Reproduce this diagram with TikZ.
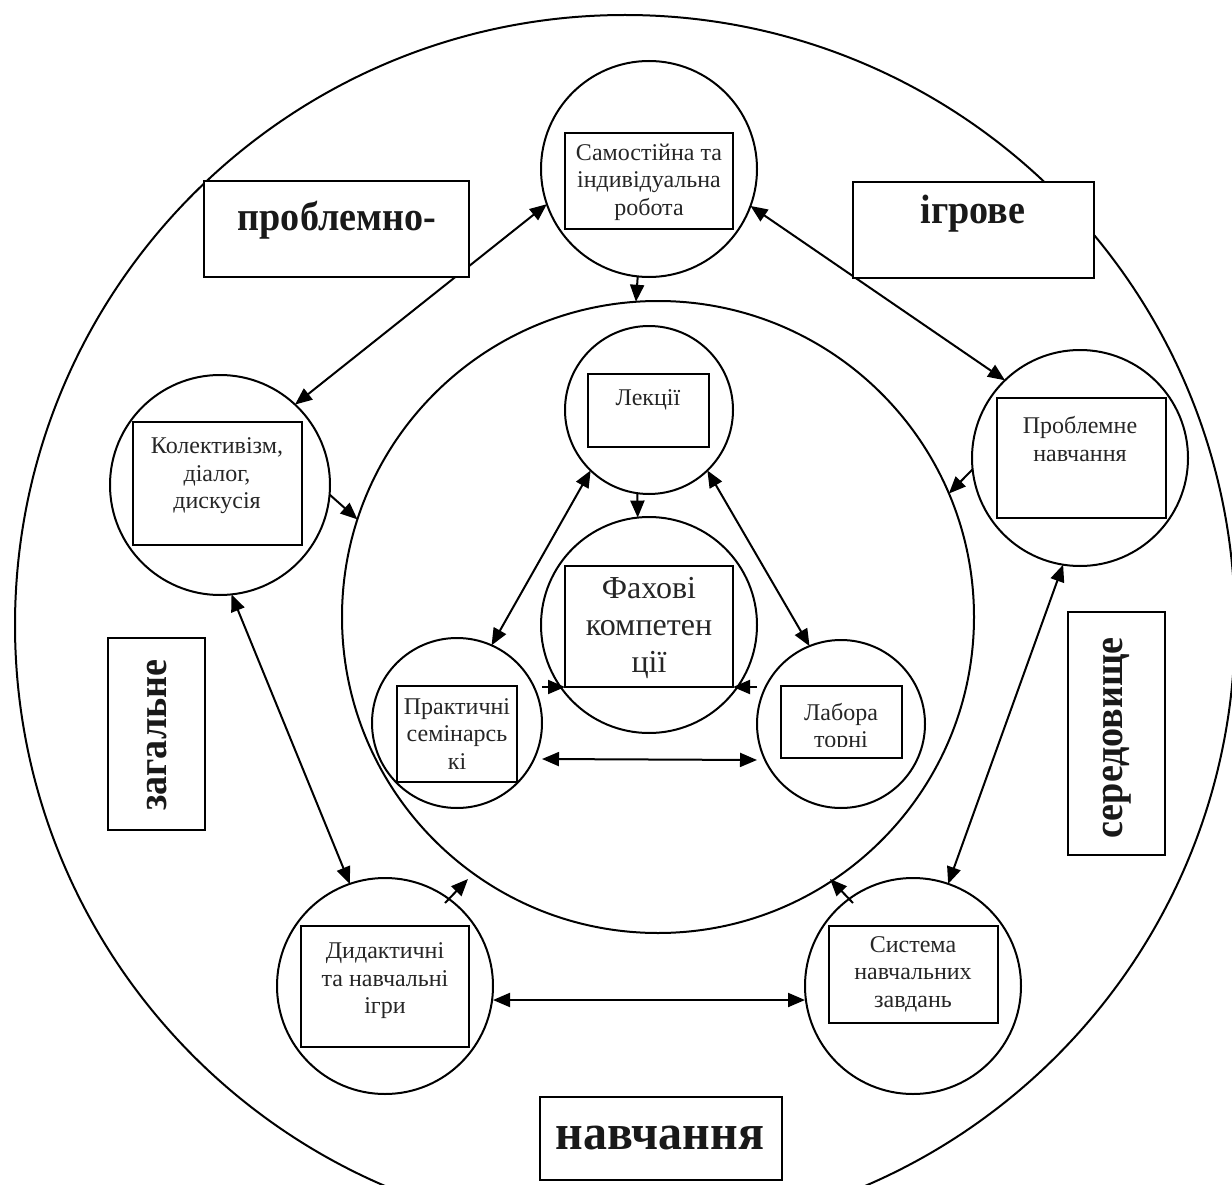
\documentclass[tikz,border=0pt]{standalone}
\usepackage{fontspec}
\usepackage{graphicx}
\setmainfont{Liberation Serif}
\usetikzlibrary{arrows.meta}
\newcommand{\narrow}[2][0.93]{\scalebox{#1}[1]{#2}}
\begin{document}
\begin{tikzpicture}[x=1pt,y=-1pt,
  every node/.style={inner sep=0pt, outer sep=0pt},
  ring/.style={draw, circle, line width=2pt, minimum size=#1},
  frame/.style={draw, rectangle, line width=2pt, fill=white},
  txt/.style={align=center, text=black!85, font=\fontsize{24}{27.5}\selectfont},
  big/.style={align=center, text=black!90, font=\bfseries\fontsize{41}{45}\selectfont},
  con/.style={line width=2pt, -{Triangle[length=17pt,width=14pt]}},
  dcon/.style={line width=2pt, {Triangle[length=17pt,width=14pt]}-{Triangle[length=17pt,width=14pt]}},
]
\useasboundingbox (0,0) rectangle (1232,1185);
\clip (0,0) rectangle (1232,1185);
\fill[white] (0,0) rectangle (1232,1185);

% circles
\node[ring=1220pt] (outer) at (625,625) {};
\node[ring=632pt] (inner) at (658,617) {};
\node[ring=216pt] (samo) at (649,169) {};
\node[ring=220pt] (kol) at (220,485) {};
\node[ring=216pt] (prob) at (1080,458) {};
\node[ring=168pt] (lek) at (649,410) {};
\node[ring=216pt] (fax) at (649,625) {};
\node[ring=170pt] (prak) at (457,723) {};
\node[ring=168pt] (lab) at (841,724) {};
\node[ring=216pt] (did) at (385,986) {};
\node[ring=216pt] (sys) at (913,986) {};

% inner boxes
\node[frame, minimum width=168pt, minimum height=96pt] (samobox) at (649,181) {};
\node[txt] (samotxt) at (649,182) {Самостійна та\\індивідуальна\\робота};
\node[frame, minimum width=169pt, minimum height=123pt] (kolbox) at (217.5,483.5) {};
\node[txt] (koltxt) at (217,476) {Колективізм,\\діалог,\\дискусія};
\node[frame, minimum width=169pt, minimum height=120pt] (probbox) at (1081.5,458) {};
\node[txt] (probtxt) at (1080,439) {Проблемне\\навчання};
\node[frame, minimum width=121pt, minimum height=73pt] (lekbox) at (648.5,410.5) {};
\node[txt] (lektxt) at (648,400) {Лекції};
\node[frame, minimum width=168pt, minimum height=121pt] (faxbox) at (649,626.5) {};
\node[txt, font=\fontsize{32}{37}\selectfont] (faxtxt) at (649,628) {Фахові\\компетен\\ції};
\node[frame, minimum width=120pt, minimum height=96pt] (prakbox) at (457,734) {};
\node[txt] (praktxt) at (457,734) {Практичні\\семінарсь\\кі};
\node[frame, minimum width=121pt, minimum height=72pt] (labbox) at (841.5,722) {};
\begin{scope}
\clip (782,687) rectangle (901,746);
\node[txt] (labtxt) at (841,728) {Лабора\\торні};
\end{scope}
\node[frame, minimum width=168pt, minimum height=121pt] (didbox) at (385,986.5) {};
\node[txt] (didtxt) at (385,981) {Дидактичні\\та навчальні\\ігри};
\node[frame, minimum width=169pt, minimum height=97pt] (sysbox) at (913.5,974.5) {};
\node[txt] (systxt) at (913,974) {Система\\навчальних\\завдань};

% connectors
\draw[dcon] (samo.199) -- (kol.47);
\draw[dcon] (samo.-20) -- (prob.134);
\draw[con] (prob.186) -- (inner.23);
\draw[con] (kol.-5) -- (inner.162);
\draw[con] (samo.-96) -- (inner.94);
\draw[con] (lek.-98) -- (fax.96.5);
\draw[dcon] (lek.-134) -- (prak.66.6);
\draw[dcon] (lek.-46) -- (lab.112.7);
\draw[con] (faxbox.south west -| prak.east) -- (faxbox.south west);
\draw[con] (faxbox.south east -| lab.west) -- (faxbox.south east);
\draw[dcon] ([yshift=-36pt]prak.east) -- ([yshift=-36pt]lab.west);
\draw[dcon] (kol.-84) -- (did.109);
\draw[dcon] (prob.-99) -- (sys.71);
\draw[dcon] ([yshift=-14pt]did.east) -- ([yshift=-14pt]sys.west);
\coordinate (d1) at (445,903);
\coordinate (d2) at (468,879);
\draw[con] (d1) -- (d2);
\coordinate (s1) at (853,903);
\coordinate (s2) at (830,879);
\draw[con] (s1) -- (s2);

% label boxes
\node[frame, minimum width=265pt, minimum height=96pt] (prbox) at (336.5,229) {};
\node[big] (prtxt) at (337,220) {\narrow{проблемно-}};
\node[frame, minimum width=241pt, minimum height=96pt] (igbox) at (973.5,230) {};
\node[big] (igtxt) at (973,214) {\narrow{ігрове}};
\node[frame, minimum width=97pt, minimum height=192pt] (zagbox) at (156.5,734) {};
\node[big, rotate=90] (zagtxt) at (157,735) {\narrow{загальне}};
\node[frame, minimum width=97pt, minimum height=243pt] (serbox) at (1116.5,733.5) {};
\node[big, rotate=90] (sertxt) at (1117,738) {\narrow{середовище}};
\node[frame, minimum width=242pt, minimum height=83pt] (navbox) at (661,1138.5) {};
\node[big, font=\bfseries\fontsize{50}{54}\selectfont] (navtxt) at (660,1138) {\narrow[0.96]{навчання}};
\end{tikzpicture}
\end{document}
